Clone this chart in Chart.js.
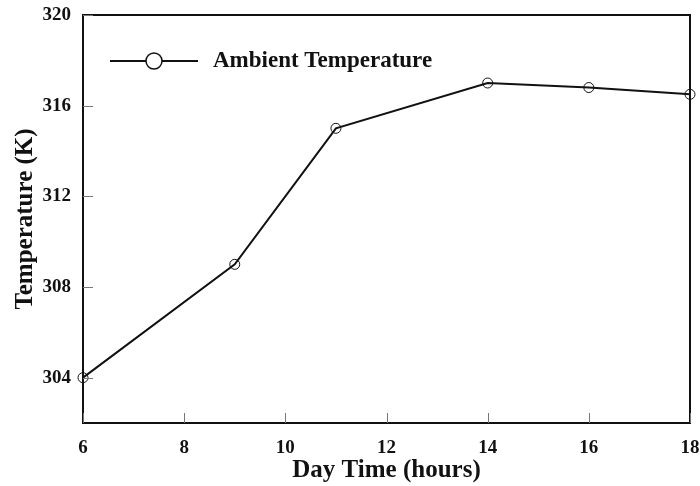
<!DOCTYPE html>
<html>
<head>
<meta charset="utf-8">
<script src="https://cdn.jsdelivr.net/npm/chart.js@4.4.0/dist/chart.umd.min.js"></script>
<style>
  html, body { margin: 0; padding: 0; background: #fff; }
  #wrap { width: 700px; height: 486px; }
</style>
</head>
<body>
<div id="wrap"><canvas id="chart" width="700" height="486"></canvas></div>
<script>
// data
const hours = [6, 9, 11, 14, 16, 18];
const ambientTemp = [304, 309, 315, 317, 316.8, 316.5];
const xTicks = [6, 8, 10, 12, 14, 16, 18];
const yTicks = [304, 308, 312, 316, 320];

const FONT = '"Liberation Serif", "Times New Roman", serif';

// frame + inward tick marks + legend box
const framePlugin = {
  id: 'frame',
  afterDraw(chart) {
    const { ctx, chartArea: a, scales } = chart;
    ctx.save();
    ctx.strokeStyle = '#111';
    ctx.lineWidth = 2;
    ctx.strokeRect(a.left, a.top, a.right - a.left, a.bottom - a.top);

    ctx.lineWidth = 1;
    ctx.strokeStyle = '#777';
    ctx.beginPath();
    xTicks.forEach(v => {
      const x = Math.round(scales.x.getPixelForValue(v)) + 0.5;
      ctx.moveTo(x, a.bottom);
      ctx.lineTo(x, a.bottom - 10);
    });
    yTicks.forEach(v => {
      const y = Math.round(scales.y.getPixelForValue(v)) + 0.5;
      ctx.moveTo(a.left, y);
      ctx.lineTo(a.left + 10, y);
    });
    ctx.stroke();

    // legend
    const ds = chart.data.datasets[0];
    const ly = a.top + 46;
    const lx = a.left + 27;
    ctx.strokeStyle = '#111';
    ctx.lineWidth = 2;
    ctx.beginPath();
    ctx.moveTo(lx, ly);
    ctx.lineTo(lx + 88, ly);
    ctx.stroke();
    ctx.lineWidth = 1.5;
    ctx.fillStyle = '#fff';
    ctx.beginPath();
    ctx.arc(lx + 44, ly, 8, 0, Math.PI * 2);
    ctx.fill();
    ctx.stroke();
    ctx.fillStyle = '#111';
    ctx.font = 'bold 23px ' + FONT;
    ctx.textBaseline = 'middle';
    ctx.fillText(ds.label, lx + 103, ly);
    ctx.restore();
  }
};

new Chart(document.getElementById('chart'), {
  type: 'line',
  data: {
    datasets: [{
      label: 'Ambient Temperature',
      data: hours.map((h, i) => ({ x: h, y: ambientTemp[i] })),
      borderColor: '#111',
      borderWidth: 2,
      pointRadius: 5,
      pointBorderWidth: 1,
      pointBackgroundColor: 'rgba(255,255,255,0)',
      pointBorderColor: '#111',
      tension: 0
    }]
  },
  options: {
    responsive: false,
    animation: false,
    clip: false,
    layout: { padding: { top: 0, right: 0, left: 11, bottom: 0 } },
    plugins: {
      legend: { display: false },
      tooltip: { enabled: false }
    },
    scales: {
      x: {
        type: 'linear',
        min: 6,
        max: 18,
        afterBuildTicks: s => { s.ticks = xTicks.map(v => ({ value: v })); },
        afterFit: s => { s.height = 63; s.paddingLeft = 0; s.paddingRight = 10; },
        grid: { display: false, drawTicks: false },
        border: { display: false },
        ticks: {
          color: '#111',
          padding: 14,
          font: { family: FONT, size: 19, weight: 'bold' }
        },
        title: {
          display: true,
          text: 'Day Time (hours)',
          color: '#111',
          padding: { top: 0, bottom: 0 },
          font: { family: FONT, size: 25, weight: 'bold' }
        }
      },
      y: {
        min: 302,
        max: 320,
        afterBuildTicks: s => { s.ticks = yTicks.map(v => ({ value: v })); },
        afterFit: s => { s.width = 72; s.paddingTop = 15; s.paddingBottom = 0; },
        grid: { display: false, drawTicks: false },
        border: { display: false },
        ticks: {
          color: '#111',
          padding: 12,
          font: { family: FONT, size: 19, weight: 'bold' }
        },
        title: {
          display: true,
          text: 'Temperature (K)',
          color: '#111',
          padding: { top: 0, bottom: 0 },
          font: { family: FONT, size: 25, weight: 'bold' }
        }
      }
    }
  },
  plugins: [framePlugin]
});
</script>
</body>
</html>
